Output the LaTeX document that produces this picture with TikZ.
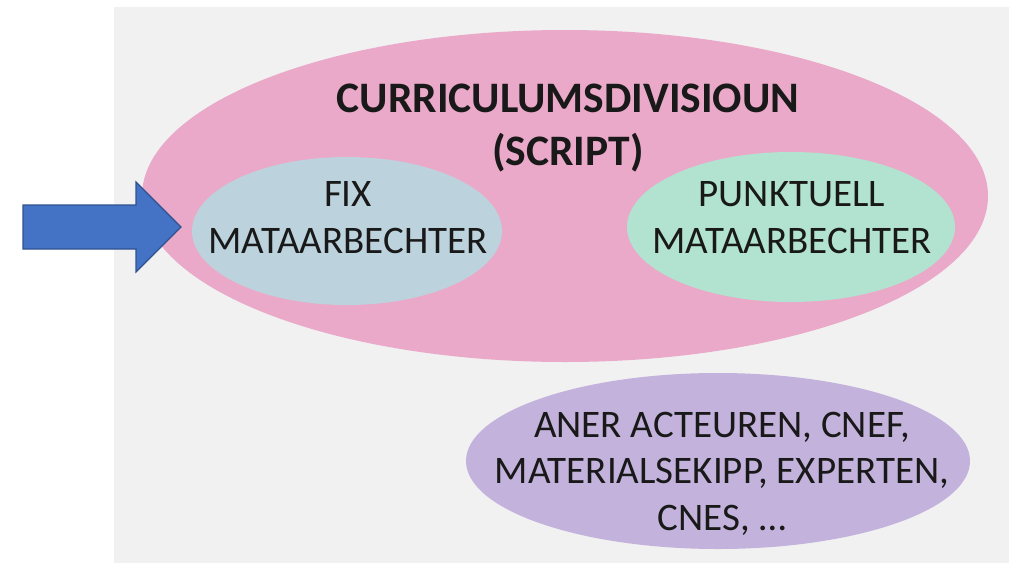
\documentclass[tikz,border=0pt]{standalone}
\usepackage{fontspec}
\setmainfont{Carlito}
\usetikzlibrary{shapes.geometric}
\definecolor{bggray}{HTML}{F1F1F1}
\definecolor{pinkfill}{HTML}{EAA9C8}
\definecolor{bluefill}{HTML}{BCD3DE}
\definecolor{greenfill}{HTML}{B2E2D0}
\definecolor{purplefill}{HTML}{C3B3DC}
\definecolor{arrowfill}{HTML}{4472C4}
\definecolor{arrowline}{HTML}{2F528F}
\tikzset{
  blob/.style={ellipse, draw=none, inner sep=0pt},
  txt/.style={align=center, inner sep=0pt, font=\fontsize{39}{46.5}\selectfont, text=black!90},
  titletxt/.style={align=center, inner sep=0pt, font=\fontsize{43.5}{53}\selectfont\bfseries, text=black!90}
}
\begin{document}
\begin{tikzpicture}[x=1pt,y=-1pt]
\useasboundingbox (0,0) rectangle (1009,563);
\fill[bggray] (114,7) rectangle (1009,563);
\node[blob, fill=pinkfill, minimum width=846, minimum height=332] (pink) at (565,196) {};
\node[blob, fill=bluefill, minimum width=310, minimum height=148] (fix) at (347,231) {};
\node[blob, fill=greenfill, minimum width=328, minimum height=150] (punkt) at (791,227) {};
\node[blob, fill=purplefill, minimum width=504, minimum height=176] (aner) at (718,461) {};
\node[titletxt, anchor=base] (title) at (568,165) {CURRICULUMSDIVISIOUN\\(SCRIPT)};
\node[txt, anchor=base] (fixtxt) at (348,253) {FIX\\MATAARBECHTER};
\node[txt, anchor=base] (punkttxt) at (792,253) {PUNKTUELL\\MATAARBECHTER};
\node[txt, anchor=base] (anertxt) at (722,530) {ANER ACTEUREN, CNEF,\\MATERIALSEKIPP, EXPERTEN,\\CNES, \dots};
\fill[arrowfill, draw=arrowline, line width=1.2pt, line join=miter]
  (23,205) -- (136,205) -- (136,182) -- (181,227) -- (136,272) -- (136,249) -- (23,249) -- cycle;
\end{tikzpicture}
\end{document}
